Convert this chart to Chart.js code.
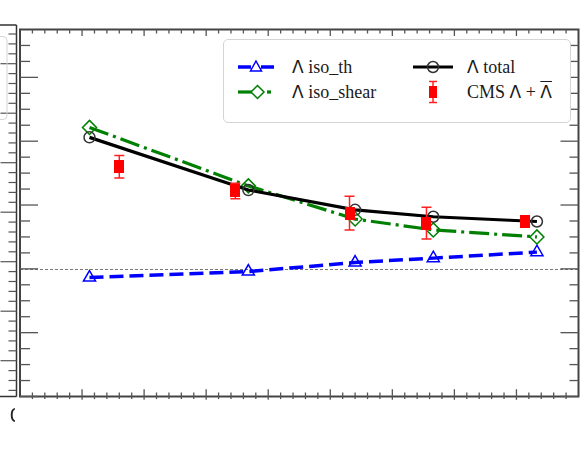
<!DOCTYPE html>
<html><head><meta charset="utf-8">
<script src="https://cdn.jsdelivr.net/npm/chart.js@4/dist/chart.umd.min.js"></script>
<style>
html,body{margin:0;padding:0;background:#fff;}
#wrap{position:relative;width:587px;height:465px;overflow:hidden;background:#fff;}
#c{position:absolute;left:0;top:0;}
#legend{position:absolute;left:223px;top:39px;width:348px;height:84px;border:1px solid #d4d4d4;border-radius:5px;background:#fff;box-sizing:border-box;font-family:"Liberation Serif","Times New Roman",serif;font-size:18px;color:#1a1a1a;}
.item{position:absolute;height:24px;display:flex;align-items:center;white-space:nowrap;}
.item svg{display:block;flex:none;}
.item span{line-height:24px;}
.gk{font-family:"DejaVu Sans",sans-serif;font-size:17px;}
.ov{text-decoration:overline;text-decoration-thickness:1px;}
#cut{position:absolute;left:9.6px;top:405.5px;width:5.6px;height:20px;overflow:hidden;font-family:"DejaVu Sans",sans-serif;font-size:19px;line-height:19px;color:#222;}
</style></head><body>
<div id="wrap"><canvas id="c" width="587" height="465"></canvas><div id="legend"></div><div id="cut"><span>0</span></div></div>
<script>
// ---- data ----
const seriesLabels = ["Λ iso_th", "Λ iso_shear", "Λ total", "CMS Λ + Λ"];
const overlinedLast = [false, false, false, true];  // last Λ of the CMS label carries a bar
const xModel   = [1.12, 3.68, 5.40, 6.66, 8.33];
const isoTh    = [-0.136, -0.042, 0.099, 0.168, 0.262];
const isoShear = [2.216, 1.30, 0.78, 0.61, 0.50];
const totalP   = [2.06, 1.235, 0.925, 0.816, 0.742];
const xCMS     = [1.60, 3.47, 5.31, 6.55, 8.14];
const cmsVal   = [1.60, 1.22, 0.874, 0.717, 0.742];
const cmsErr   = [0.175, 0.12, 0.265, 0.25, 0.07];
const xTicks   = [0,1,2,3,4,5,6,7,8,9];
const yTicks   = [-2,-1,0,1,2,3];

const pts = (xs, ys) => xs.map((x,i)=>({x:x, y:ys[i]}));

// red square marker for CMS
const sq = document.createElement('canvas');
sq.width = 10; sq.height = 13;
(function(){const g=sq.getContext('2d'); g.fillStyle='#ff0000'; g.fillRect(0,0,10,13);})();

const CMS_INDEX = 3;
const errorBars = {
  id:'errorBars',
  beforeDatasetDraw(chart, args){
    if (args.index !== CMS_INDEX) return;
    const {ctx, scales:{x,y}} = chart;
    ctx.save(); ctx.strokeStyle='#ff2020'; ctx.lineWidth=1.5;
    xCMS.forEach((xv,i)=>{
      const px = x.getPixelForValue(xv);
      const top = y.getPixelForValue(cmsVal[i]+cmsErr[i]);
      const bot = y.getPixelForValue(cmsVal[i]-cmsErr[i]);
      ctx.beginPath();
      ctx.moveTo(px, top); ctx.lineTo(px, bot);
      ctx.moveTo(px-5, top); ctx.lineTo(px+5, top);
      ctx.moveTo(px-5, bot); ctx.lineTo(px+5, bot);
      ctx.stroke();
    });
    ctx.restore();
  }
};

function minors(majors, sub){
  const out=[];
  for(let i=0;i<majors.length;i++){
    for(let k=1;k<sub;k++){
      const step = (i+1<majors.length? majors[i+1]-majors[i] : majors[i]-majors[i-1]);
      out.push(majors[i]+step*k/sub);
    }
  }
  return out;
}

const frame = {
  id:'frame',
  beforeDatasetsDraw(chart){
    const {ctx, chartArea:a, scales:{y}} = chart;
    const py = Math.round(y.getPixelForValue(0))+0.5;
    ctx.save(); ctx.strokeStyle='#777'; ctx.lineWidth=1; ctx.setLineDash([3,2]);
    ctx.beginPath(); ctx.moveTo(a.left, py); ctx.lineTo(a.right, py); ctx.stroke();
    ctx.restore();
  },
  afterDraw(chart){
    const {ctx, chartArea:a, scales:{x,y}} = chart;
    ctx.save();
    // ---- fragment of neighbouring panel on the left ----
    const lx = a.left-3.5, lt = a.top-4.5, lb = a.bottom;
    ctx.strokeStyle='#333'; ctx.lineWidth=1.5;
    ctx.beginPath();
    ctx.moveTo(lx, lt); ctx.lineTo(lx, lb);
    ctx.moveTo(0, lt); ctx.lineTo(lx, lt);
    ctx.moveTo(0, lb); ctx.lineTo(lx, lb);
    ctx.stroke();
    ctx.strokeStyle='#555'; ctx.lineWidth=1.2;
    for(let k=0;k<40;k++){
      const yy = 212.2 + (k-18)*9.9;
      if (yy < lt+3 || yy > lb-3) continue;
      const major = ((k-18)%5===0);
      ctx.beginPath(); ctx.moveTo(lx, yy); ctx.lineTo(lx-(major?16:8), yy); ctx.stroke();
    }
    ctx.strokeStyle='#d4d4d4'; ctx.lineWidth=1;
    ctx.beginPath();
    ctx.moveTo(0, a.top+7); ctx.lineTo(3, a.top+7); ctx.quadraticCurveTo(7, a.top+7, 7, a.top+11);
    ctx.lineTo(7, a.top+86); ctx.quadraticCurveTo(7, a.top+90, 3, a.top+90); ctx.lineTo(0, a.top+90);
    ctx.stroke();

    // ---- main frame ----
    ctx.strokeStyle='#444'; ctx.lineWidth=2;
    ctx.strokeRect(a.left, a.top, a.right-a.left, a.bottom-a.top);
    ctx.strokeStyle='#555'; ctx.lineWidth=1.3;
    const line=(x1,y1,x2,y2)=>{ctx.beginPath();ctx.moveTo(x1,y1);ctx.lineTo(x2,y2);ctx.stroke();};
    yTicks.forEach(v=>{const p=y.getPixelForValue(v); if(p<a.top||p>a.bottom) return;
      line(a.left,p,a.left+18,p); line(a.right,p,a.right-18,p);});
    minors(yTicks.concat([4]),4).forEach(v=>{const p=y.getPixelForValue(v); if(p<a.top+1||p>a.bottom-1) return;
      line(a.left,p,a.left+10,p); line(a.right,p,a.right-9,p);});
    xTicks.forEach(v=>{const p=x.getPixelForValue(v); if(p<a.left+1||p>a.right-1) return;
      line(p,a.top,p,a.top+6.5); line(p,a.bottom-7.3,p,a.bottom+3.3);});
    minors(xTicks,5).forEach(v=>{const p=x.getPixelForValue(v); if(p<a.left+1||p>a.right+1) return;
      line(p,a.top,p,a.top+4); line(p,a.bottom-4,p,a.bottom+2.6);});
    ctx.restore();
  }
};

new Chart(document.getElementById('c'), {
  type:'line',
  data:{datasets:[
    {label:seriesLabels[0], data:pts(xModel,isoTh), borderColor:'#0000ff', borderWidth:3.5, borderDash:[14,6],
     pointStyle:'triangle', pointRadius:7, pointBorderColor:'#0000ff', pointBackgroundColor:'rgba(0,0,0,0)', pointBorderWidth:1.5, order:3, tension:0},
    {label:seriesLabels[1], data:pts(xModel,isoShear), borderColor:'#008000', borderWidth:3.2, borderDash:[20,5,3,5],
     pointStyle:'rectRot', pointRadius:7, pointBorderColor:'#008000', pointBackgroundColor:'rgba(0,0,0,0)', pointBorderWidth:1.5, order:2, tension:0},
    {label:seriesLabels[2], data:pts(xModel,totalP), borderColor:'#000000', borderWidth:3.2,
     pointStyle:'circle', pointRadius:5.5, pointBorderColor:'#333', pointBackgroundColor:'rgba(0,0,0,0)', pointBorderWidth:1.5, order:1, tension:0},
    {label:seriesLabels[3], data:pts(xCMS,cmsVal), showLine:false, pointStyle:sq, pointRadius:6, order:0}
  ]},
  options:{
    responsive:false, animation:false, events:[],
    layout:{padding:{left:20, right:4.5, top:29.5, bottom:68.5}},
    plugins:{legend:{display:false}, tooltip:{enabled:false}},
    scales:{
      x:{type:'linear', min:0, max:9, display:false},
      y:{type:'linear', min:-2, max:3.75, display:false}
    }
  },
  plugins:[errorBars, frame]
});

// ---- legend (HTML, built from labels) ----
const legendSamples = [
  `<svg width="36" height="24"><line x1="0" y1="12" x2="13" y2="12" stroke="#0000ff" stroke-width="3.5"/><line x1="23" y1="12" x2="36" y2="12" stroke="#0000ff" stroke-width="3.5"/><polygon points="18,6 23.5,16 12.5,16" fill="none" stroke="#0000ff" stroke-width="1.5"/></svg>`,
  `<svg width="36" height="24"><line x1="0" y1="12" x2="14" y2="12" stroke="#008000" stroke-width="3.2"/><line x1="14" y1="12" x2="25" y2="12" stroke="#008000" stroke-width="3.2"/><polygon points="19.5,5.5 26,12 19.5,18.5 13,12" fill="#fff" stroke="#008000" stroke-width="1.5"/><line x1="29" y1="12" x2="33" y2="12" stroke="#008000" stroke-width="3.2"/></svg>`,
  `<svg width="40" height="24"><line x1="0" y1="12" x2="40" y2="12" stroke="#000" stroke-width="3.2"/><circle cx="20" cy="12" r="5.5" fill="none" stroke="#333" stroke-width="1.5"/></svg>`,
  `<svg width="40" height="24"><line x1="20" y1="1.5" x2="20" y2="22.5" stroke="#ff2020" stroke-width="1.5"/><line x1="16" y1="1.5" x2="24" y2="1.5" stroke="#ff2020" stroke-width="1.5"/><line x1="16" y1="22.5" x2="24" y2="22.5" stroke="#ff2020" stroke-width="1.5"/><rect x="16" y="6" width="8" height="12" fill="#ff0000"/></svg>`
];
const legendPos = [[14,15],[14,40],[189,15],[189,40]];
const gap = [18,18,14,14];
const lg = document.getElementById('legend');
function appendText(parent, text){
  // Greek letters are typeset in a sans face, as in the reference
  text.split(/(Λ)/).forEach(part=>{
    if (!part) return;
    if (part === 'Λ') { const g=document.createElement('span'); g.className='gk'; g.textContent=part; parent.appendChild(g); }
    else parent.appendChild(document.createTextNode(part));
  });
}
seriesLabels.forEach((t,i)=>{
  const d=document.createElement('div'); d.className='item';
  d.style.left=legendPos[i][0]+'px'; d.style.top=legendPos[i][1]+'px';
  d.innerHTML=legendSamples[i];
  const s=document.createElement('span'); s.style.marginLeft=gap[i]+'px';
  if (overlinedLast[i]) {
    const cut=t.lastIndexOf('Λ');
    appendText(s, t.slice(0,cut));
    const o=document.createElement('span'); o.className='gk ov'; o.textContent=t.slice(cut);
    s.appendChild(o);
  } else appendText(s, t);
  d.appendChild(s);
  lg.appendChild(d);
});
</script>
</body></html>
